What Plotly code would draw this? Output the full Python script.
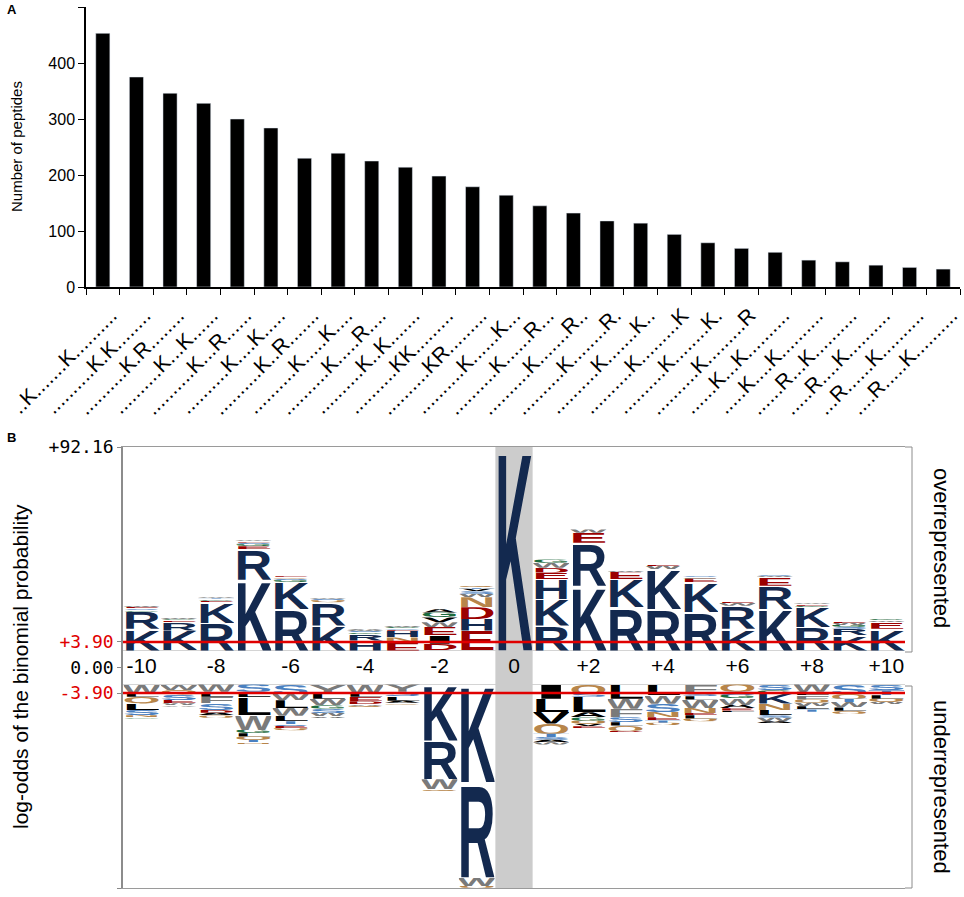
import base64
import plotly.graph_objects as go

W, H = 964, 897

# ---- panel A: peptides per K/R motif (21-residue window, central K at index 10)
MOTIFS = [
    "..K.......K..........",
    "..........K.K........",
    "..........K.R........",
    "..........K...K......",
    "..........K...R......",
    "..........K....K.....",
    "..........K..R.......",
    "..........K.....K....",
    "..........K.....R....",
    "..........K..K.......",
    "..........KK.........",
    "..........KR.........",
    "..........K......K...",
    "..........K......R...",
    "..........K.......R..",
    "..........K........R.",
    "..........K.......K..",
    "..........K.........K",
    "..........K........K.",
    "..........K.........R",
    "......K...K..........",
    ".....K....K..........",
    "......R...K..........",
    ".....R....K..........",
    "...R......K..........",
    "....R.....K..........",
]
PEPTIDES = [453, 375, 346, 328, 300, 284, 230, 239, 225, 214, 198, 179, 164,
            145, 132, 118, 114, 94, 79, 69, 62, 48, 45, 39, 35, 32]

# ---- panel B: pLogo stacks, letters listed from the baseline outwards
POSITIONS = [-10, -9, -8, -7, -6, -5, -4, -3, -2, -1, 0,
             1, 2, 3, 4, 5, 6, 7, 8, 9, 10]
POSITION_TICKS = [-10, -8, -6, -4, -2, 0, 2, 4, 6, 8, 10]
POSITION_TEXT = ["-10", "-8", "-6", "-4", "-2", "0", "+2", "+4", "+6", "+8", "+10"]

OVER_LETTERS = [
    "KRGSEW", "KREGW", "RKEGTW", "KREGSEW", "RKGSQE", "KRQSW", "HRGSWA",
    "ENHESGW", "DIEWVGA", "EHDNWSVTQ", "K",
    "RKHEDWG", "KREW", "RKEW", "RKWE", "RKEGS", "KRWE", "KREWS", "RKGEW",
    "KRSGWE", "KEWG",
]
OVER_HEIGHTS = [
    [9.8, 7.8, 0.8, 0.7, 0.6, 0.6],
    [9.0, 3.8, 0.8, 0.6, 0.5],
    [12.5, 9.3, 0.7, 0.6, 0.5, 0.5],
    [32.0, 14.0, 1.2, 0.9, 0.8, 0.8, 0.8],
    [18.8, 12.0, 1.0, 0.8, 0.8, 0.7],
    [11.3, 10.5, 0.9, 0.7, 0.6],
    [4.5, 3.0, 0.7, 0.6, 0.6, 0.4],
    [3.7, 2.2, 3.0, 0.6, 0.6, 0.5, 0.5],
    [3.0, 3.8, 3.8, 2.2, 2.2, 2.2, 1.5],
    [9.0, 5.3, 5.3, 4.5, 1.5, 1.2, 1.2, 0.8, 0.6],
    [92.16],
    [11.3, 12.0, 9.0, 3.0, 2.2, 2.2, 1.5],
    [29.3, 19.5, 4.5, 1.5],
    [19.5, 12.8, 3.3, 0.8],
    [18.8, 18.0, 1.5, 0.8],
    [17.3, 13.5, 1.8, 0.5, 0.5],
    [9.8, 10.5, 1.2, 0.6],
    [18.8, 10.5, 3.8, 0.8, 0.6],
    [10.5, 9.0, 0.8, 0.6, 0.5],
    [6.8, 3.0, 0.9, 0.9, 0.9, 0.8],
    [9.8, 3.0, 0.8, 0.7],
]

UNDER_LETTERS = [
    "WLQLSNG", "WQSEWA", "WLFSDAQ", "SLLWGLQTN", "SWLWLTSEQ", "YLWGSWA",
    "WLEDAQ", "YSLAQ", "KRWQ", "KRWQ", "",
    "ILVQTSAW", "QSLAGQVE", "LWFSLQD", "LWSNETQ", "FSLWNELQ", "QSGWAEL",
    "SGKNLSWA", "WLFQWLT", "SQTWLQ", "STLQW",
]
UNDER_HEIGHTS = [
    [4.1, 1.5, 3.0, 3.0, 2.3, 1.0, 0.5],
    [2.5, 2.0, 2.5, 1.5, 1.0, 0.5],
    [3.3, 2.3, 3.0, 3.0, 1.2, 1.2, 1.0],
    [3.3, 2.5, 8.0, 6.8, 1.5, 1.5, 1.5, 1.0, 0.8],
    [4.1, 3.0, 3.5, 3.5, 2.5, 1.5, 0.7, 1.0, 0.9],
    [4.1, 2.3, 3.0, 1.5, 2.0, 1.5, 0.8],
    [4.1, 1.5, 2.0, 1.2, 0.8, 0.6],
    [3.3, 2.0, 2.0, 1.0, 0.8],
    [25.4, 17.5, 4.5, 0.8],
    [44.2, 43.2, 3.8, 0.9],
    [],
    [6.4, 6.0, 5.3, 4.6, 1.5, 1.2, 1.2, 1.0],
    [4.1, 1.5, 7.0, 2.3, 1.5, 1.5, 1.0, 1.0],
    [6.4, 4.6, 3.8, 2.3, 1.5, 2.3, 0.8],
    [4.9, 3.8, 3.8, 2.3, 1.5, 1.0, 1.0],
    [4.1, 1.2, 1.5, 3.8, 2.3, 1.0, 1.5, 1.2],
    [3.3, 1.5, 1.5, 3.0, 1.5, 1.0, 0.8],
    [2.6, 1.5, 4.5, 3.0, 2.3, 1.2, 1.5, 1.0],
    [3.3, 1.5, 2.0, 1.5, 1.5, 1.5, 1.0],
    [4.1, 2.3, 1.5, 2.5, 1.5, 1.3],
    [2.6, 2.3, 1.5, 1.5, 1.0],
]

Y_LIMIT = 92.16
THRESHOLD = 3.90

AA_COLORS = {
    "K": "#13294f", "R": "#13294f", "H": "#13294f",
    "D": "#9b0000", "E": "#9b0000",
    "S": "#4a80c0", "T": "#4a80c0",
    "N": "#b7854a", "Q": "#b7854a",
    "W": "#7a7a7a", "Y": "#7a7a7a", "F": "#7a7a7a",
    "L": "#000000", "I": "#000000", "V": "#000000", "A": "#000000", "M": "#000000",
    "G": "#1c6b3d", "C": "#c8a000", "P": "#555555",
}

GAP = 7.7       # half of the label band between the two logo halves, in log-odds units
LW = 0.96       # letter width as a fraction of one position
FONT = "Arial, Liberation Sans, sans-serif"

_glyphs = {}


def glyph(letter):
    if letter not in _glyphs:
        svg = ('<svg xmlns="http://www.w3.org/2000/svg" width="70" height="72" '
               'viewBox="0 0 70 72" preserveAspectRatio="none">'
               '<text x="-2" y="72" textLength="74" lengthAdjust="spacingAndGlyphs" '
               'font-family="Liberation Sans, Arial, sans-serif" font-weight="bold" '
               f'font-size="100" fill="{AA_COLORS[letter]}">{letter}</text></svg>')
        _glyphs[letter] = "data:image/svg+xml;base64," + base64.b64encode(svg.encode()).decode()
    return _glyphs[letter]


def px_x(a, b):
    return [a / W, b / W]


def px_y(top, bottom):
    return [1 - bottom / H, 1 - top / H]


def note(text, x, y, size, angle=0):
    return dict(text=text, x=x / W, y=1 - y / H, xref="paper", yref="paper",
                xanchor="center", yanchor="middle", textangle=angle,
                showarrow=False, font=dict(size=size))


fig = go.Figure()

# panel A bars
fig.add_trace(go.Bar(x=MOTIFS, y=PEPTIDES, marker_color="black", width=0.42,
                     xaxis="x", yaxis="y", showlegend=False))

# panel B position labels in the middle band
fig.add_trace(go.Scatter(x=POSITION_TICKS, y=[0] * len(POSITION_TICKS), text=POSITION_TEXT,
                         mode="text", textfont=dict(family=FONT, size=21, color="black"),
                         xaxis="x2", yaxis="y2", showlegend=False, hoverinfo="skip"))

images = []
for p, letters, heights in zip(POSITIONS, OVER_LETTERS, OVER_HEIGHTS):
    cum = 0.0
    for aa, h in zip(letters, heights):
        cum += h
        images.append(dict(source=glyph(aa), xref="x2", yref="y2", x=p - LW / 2, y=GAP + cum,
                           sizex=LW, sizey=h, xanchor="left", yanchor="top",
                           sizing="stretch", layer="above"))
for p, letters, heights in zip(POSITIONS, UNDER_LETTERS, UNDER_HEIGHTS):
    cum = 0.0
    for aa, h in zip(letters, heights):
        images.append(dict(source=glyph(aa), xref="x2", yref="y2", x=p - LW / 2, y=-GAP - cum,
                           sizex=LW, sizey=h, xanchor="left", yanchor="top",
                           sizing="stretch", layer="above"))
        cum += h

ytop = Y_LIMIT + GAP
shapes = [
    dict(type="rect", xref="x2", yref="y2", x0=-0.5, x1=0.5, y0=-ytop, y1=ytop,
         fillcolor="#cccccc", line_width=0, layer="below"),
    dict(type="line", xref="x2 domain", yref="y2", x0=0, x1=1, y0=GAP, y1=GAP,
         line=dict(color="#d4d4d4", width=1), layer="below"),
    dict(type="line", xref="x2 domain", yref="y2", x0=0, x1=1, y0=-GAP, y1=-GAP,
         line=dict(color="#d4d4d4", width=1), layer="below"),
    dict(type="line", xref="x2 domain", yref="y2", x0=0, x1=1,
         y0=THRESHOLD + GAP, y1=THRESHOLD + GAP, line=dict(color="#e00000", width=2.5)),
    dict(type="line", xref="x2 domain", yref="y2", x0=0, x1=1,
         y0=-THRESHOLD - GAP, y1=-THRESHOLD - GAP, line=dict(color="#e00000", width=2.5)),
]
# brackets on the right of panel B
for top, bottom in [(447, 652), (686, 888)]:
    shapes.append(dict(type="path", xref="paper", yref="paper",
                       path=(f"M {905 / W} {1 - top / H} L {912 / W} {1 - top / H} "
                             f"L {912 / W} {1 - bottom / H} L {905 / W} {1 - bottom / H}"),
                       line=dict(color="#8c8c8c", width=1)))

red = lambda s: f'<span style="color:#e00000">{s}</span>'
b_tickvals = [Y_LIMIT + GAP, THRESHOLD + GAP, 0, -THRESHOLD - GAP, -Y_LIMIT - GAP]
b_ticktext = ["+92.16", red("+3.90"), "0.00", red("-3.90"), "-92.16"]

fig.update_layout(
    width=W, height=H, margin=dict(l=0, r=0, t=0, b=0),
    paper_bgcolor="white", plot_bgcolor="white", bargap=0.58,
    font=dict(family=FONT, color="black"),
    xaxis=dict(domain=px_x(86, 960), anchor="y", type="category", tickangle=-45,
               tickson="boundaries", ticks="outside", ticklen=6, tickcolor="black",
               ticklabelstandoff=6, ticklabelshift=8,
               showline=True, linecolor="black", linewidth=1.5, showgrid=False,
               tickfont=dict(family=FONT, size=21, color="black"), automargin=False),
    yaxis=dict(domain=px_y(7, 287), anchor="x", range=[0, 500], dtick=100,
               ticks="outside", ticklen=6, tickcolor="black", showline=True,
               linecolor="black", linewidth=1.5, showgrid=False, zeroline=False,
               tickfont=dict(family=FONT, size=16, color="black"), automargin=False),
    xaxis2=dict(domain=px_x(123, 905), anchor="y2", range=[-10.5, 10.5],
                showticklabels=False, ticks="", showgrid=False, zeroline=False,
                showline=True, mirror=True, linecolor="#9a9a9a", linewidth=1,
                automargin=False),
    yaxis2=dict(domain=px_y(447, 888), anchor="x2", range=[-ytop, ytop],
                tickvals=b_tickvals, ticktext=b_ticktext, ticks="outside", ticklen=4,
                tickcolor="#888", showgrid=False, zeroline=False, showline=True,
                linecolor="#8c8c8c", linewidth=1.5,
                tickfont=dict(family="DejaVu Sans Mono, monospace", size=18, color="black"),
                automargin=False),
    images=images,
    shapes=shapes,
    annotations=[
        dict(text="<b>A</b>", x=5 / W, y=1 - 10 / H, xref="paper", yref="paper",
             xanchor="left", yanchor="middle", showarrow=False, font=dict(size=13)),
        dict(text="<b>B</b>", x=5 / W, y=1 - 437 / H, xref="paper", yref="paper",
             xanchor="left", yanchor="middle", showarrow=False, font=dict(size=13)),
        note("Number of peptides", 16, 147, 15, -90),
        note("log-odds of the binomial probability", 20, 667, 21, -90),
        note("overrepresented", 942, 548, 22, 90),
        note("underrepresented", 942, 787, 22, 90),
    ],
)

# the page has the browser's default 8px body margin; drop it so the figure fills the window
fig.write_html("out.html", config={"displayModeBar": False},
               post_script="document.body.style.margin='0';"
                           "document.body.style.overflow='hidden';")
